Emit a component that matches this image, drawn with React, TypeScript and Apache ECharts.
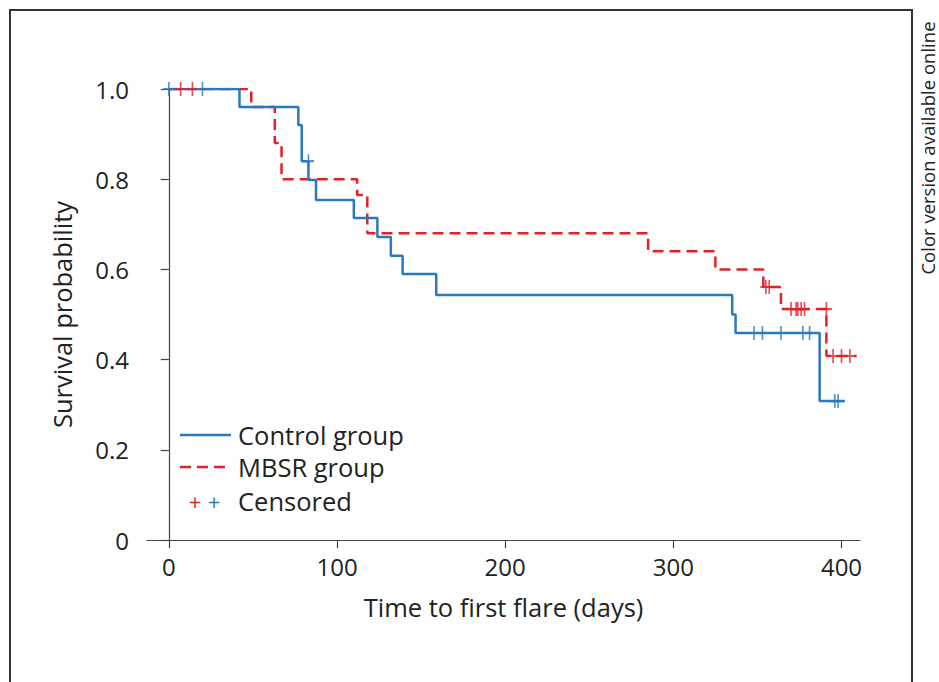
import React, { useEffect, useRef } from 'react';
import * as echarts from 'echarts';

// Kaplan–Meier step points (time in days, survival probability)
const controlTimes = [0, 42, 77, 79, 83, 87.5, 110, 124, 132, 139, 159, 335, 337, 387, 402];
const controlSurvival = [1, 0.96, 0.92, 0.84, 0.798, 0.754, 0.714, 0.672, 0.63, 0.59, 0.543, 0.5, 0.459, 0.308, 0.308];
const mbsrTimes = [0, 49, 63, 67, 112, 118, 285, 325, 353.5, 364, 391, 409];
const mbsrSurvival = [1, 0.96, 0.88, 0.8, 0.765, 0.68, 0.64, 0.6, 0.561, 0.512, 0.408, 0.408];

// Censored observations
const controlCensoredTimes = [0, 20, 83, 348, 353, 364, 377, 381, 396, 398];
const controlCensoredSurvival = [1, 1, 0.84, 0.459, 0.459, 0.459, 0.459, 0.459, 0.308, 0.308];
const mbsrCensoredTimes = [7, 14, 355, 357, 370, 373, 374, 376, 378, 391, 395, 400, 405];
const mbsrCensoredSurvival = [1, 1, 0.561, 0.561, 0.512, 0.512, 0.512, 0.512, 0.512, 0.512, 0.408, 0.408, 0.408];

const xTicks = [0, 100, 200, 300, 400];
const seriesNames = ['Control group', 'MBSR group', 'Censored'];
const xAxisTitle = 'Time to first flare (days)';
const yAxisTitle = 'Survival probability';
const sideNote = 'Color version available online';

const BLUE = '#2b79bd';
const RED = '#e2222b';
const FONT = '"Open Sans", "Noto Sans", sans-serif';
const PLUS = 'path://M8.5,0H11.5V8.5H20V11.5H11.5V20H8.5V11.5H0V8.5H8.5Z';

const zip = (a: number[], b: number[]) => a.map((v, i) => [v, b[i]]);

export default function App() {
  const ref = useRef<HTMLDivElement>(null);
  useEffect(() => {
    if (!ref.current) return;
    const chart = echarts.init(ref.current, undefined, { renderer: 'svg' });
    chart.setOption({
      animation: false,
      backgroundColor: '#fff',
      textStyle: { fontFamily: FONT },
      grid: { left: 147, right: 79, top: 89, bottom: 142 },
      xAxis: {
        type: 'value',
        min: -13,
        max: 411,
        name: xAxisTitle,
        nameLocation: 'middle',
        nameGap: 54,
        nameTextStyle: { fontSize: 25.5, color: '#222', fontFamily: FONT },
        axisLine: { show: true, lineStyle: { color: '#444', width: 1.2 } },
        axisTick: { show: true, length: 8, customValues: xTicks, lineStyle: { color: '#444', width: 1.2 } },
        axisLabel: { customValues: xTicks, fontSize: 24, color: '#222', margin: 14, fontFamily: FONT },
        splitLine: { show: false },
      },
      yAxis: {
        type: 'value',
        min: 0,
        max: 1,
        interval: 0.2,
        name: yAxisTitle,
        nameLocation: 'middle',
        nameGap: 72,
        nameRotate: 90,
        nameTextStyle: { fontSize: 25.5, color: '#222', fontFamily: FONT },
        axisLine: { show: true, lineStyle: { color: '#444', width: 1.2 } },
        axisTick: { show: true, length: 8, lineStyle: { color: '#444', width: 1.2 } },
        axisLabel: {
          fontSize: 24,
          color: '#222',
          margin: 18,
          fontFamily: FONT,
          formatter: (v: number) => (v === 0 ? '0' : v.toFixed(1)),
        },
        splitLine: { show: false },
      },
      series: [
        {
          name: seriesNames[0],
          type: 'line',
          step: 'end',
          showSymbol: false,
          data: zip(controlTimes, controlSurvival),
          lineStyle: { color: BLUE, width: 2.5 },
          itemStyle: { color: BLUE },
          z: 3,
        },
        {
          name: seriesNames[1],
          type: 'line',
          step: 'end',
          showSymbol: false,
          data: zip(mbsrTimes, mbsrSurvival),
          lineStyle: { color: RED, width: 2.5, type: [11, 6] },
          itemStyle: { color: RED },
          z: 2,
        },
        {
          name: seriesNames[2] + ' (MBSR)',
          type: 'scatter',
          symbol: PLUS,
          symbolSize: [11, 14],
          data: zip(mbsrCensoredTimes, mbsrCensoredSurvival),
          itemStyle: { color: RED },
          z: 4,
        },
        {
          name: seriesNames[2] + ' (Control)',
          type: 'scatter',
          symbol: PLUS,
          symbolSize: [11, 14],
          data: zip(controlCensoredTimes, controlCensoredSurvival),
          itemStyle: { color: BLUE },
          z: 5,
        },
      ],
      graphic: [
        {
          type: 'rect',
          shape: { x: 10, y: 10, width: 902, height: 720 },
          style: { fill: 'none', stroke: '#333', lineWidth: 2 },
          silent: true,
        },
        {
          type: 'text',
          x: 927,
          y: 148,
          rotation: Math.PI / 2,
          style: {
            text: sideNote,
            fontSize: 18.5,
            lineHeight: 20,
            fontFamily: FONT,
            fill: '#222',
            align: 'center',
            verticalAlign: 'middle',
          },
        },
        {
          type: 'line',
          shape: { x1: 180, y1: 435, x2: 231, y2: 435 },
          style: { stroke: BLUE, lineWidth: 2.5 },
        },
        {
          type: 'text',
          x: 238,
          y: 435,
          style: { text: seriesNames[0], fontSize: 25.5, fontFamily: FONT, fill: '#222', verticalAlign: 'middle' },
        },
        {
          type: 'line',
          shape: { x1: 180, y1: 467, x2: 231, y2: 467 },
          style: { stroke: RED, lineWidth: 2.5, lineDash: [11, 6] },
        },
        {
          type: 'text',
          x: 238,
          y: 467,
          style: { text: seriesNames[1], fontSize: 25.5, fontFamily: FONT, fill: '#222', verticalAlign: 'middle' },
        },
        {
          type: 'text',
          x: 195,
          y: 501,
          style: { text: '+', fontSize: 22, fontFamily: FONT, fill: RED, align: 'center', verticalAlign: 'middle' },
        },
        {
          type: 'text',
          x: 214,
          y: 501,
          style: { text: '+', fontSize: 22, fontFamily: FONT, fill: BLUE, align: 'center', verticalAlign: 'middle' },
        },
        {
          type: 'text',
          x: 238,
          y: 501,
          style: { text: seriesNames[2], fontSize: 25.5, fontFamily: FONT, fill: '#222', verticalAlign: 'middle' },
        },
      ],
    });
    return () => chart.dispose();
  }, []);
  return (
    <div
      ref={ref}
      style={{ position: 'absolute', left: 0, top: 0, width: 939, height: 682, background: '#fff' }}
    />
  );
}
